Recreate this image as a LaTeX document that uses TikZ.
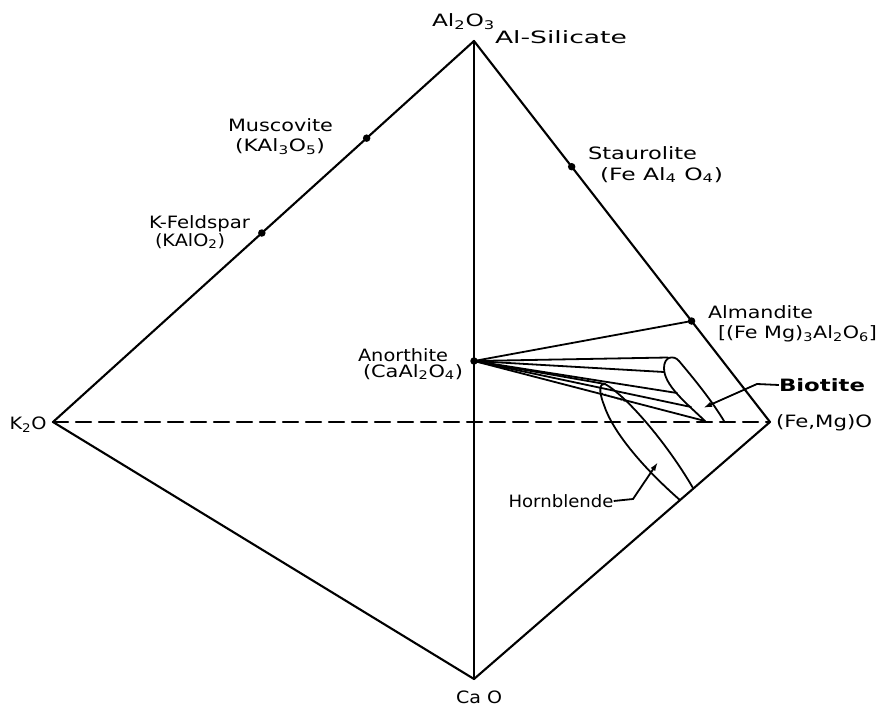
\documentclass[tikz,border=0pt]{standalone}
\usepackage{fontspec}
\setmainfont{DejaVu Sans}
\usetikzlibrary{arrows.meta,calc}
\newsavebox\lblbox
\newcommand\fitw[2]{\sbox\lblbox{#2}\pgfmathsetmacro\lblsc{#1/\the\wd\lblbox}\scalebox{\lblsc}[1]{\usebox\lblbox}}
\newcommand\sbs[1]{\textsubscript{#1}}
\tikzset{
  edge/.style={line width=2.1pt, line join=round, line cap=round},
  thin/.style={line width=1.8pt, line join=round, line cap=round},
  dot/.style={circle, fill=black, inner sep=0pt, minimum size=7.5pt},
  lbl/.style={inner sep=0pt, font=\fontsize{17}{19}\selectfont},
  lead/.style={line width=1.8pt, -{Latex[length=9pt,width=5.5pt]}}
}
\begin{document}
\begin{tikzpicture}[x=1pt,y=-1pt]
\useasboundingbox (0,0) rectangle (879,708);
% vertices
\coordinate (A) at (474,41);
\coordinate (K) at (53,422);
\coordinate (F) at (770,422);
\coordinate (C) at (474,679);
% outline
\draw[edge] (K) -- (A) -- (F) -- (C) -- cycle;
\draw[edge] (A) -- (C);
\draw[edge, dash pattern=on 15pt off 8pt] (K) -- (F);
% points on edges
\node[dot] (ms) at ($(A)!0.255!(K)$) {};
\node[dot] (kf) at ($(A)!0.504!(K)$) {};
\node[dot] (st) at ($(A)!0.33!(F)$) {};
\node[dot] (al) at ($(A)!0.735!(F)$) {};
\node[dot] (an) at (474,361) {};
% biotite
\coordinate (b1) at (668,357.5);
\coordinate (b2) at (664,372);
\coordinate (b3) at (677,393);
\coordinate (b4) at (691,407);
\coordinate (b5) at (705,421);
\coordinate (b6) at (724,421);
\draw[thin] (b5) .. controls (685,402) and (664,385) .. (664,368)
  .. controls (664,356) and (674,355) .. (679,361)
  .. controls (695,380) and (712,401) .. (b6);
% hornblende
\coordinate (h0) at (605,384);
\coordinate (hl) at ($(F)!0.304!(C)$);
\coordinate (hr) at ($(F)!0.259!(C)$);
\draw[thin] (hl) .. controls (640,465) and (612,430) .. (604,405)
  .. controls (598,390) and (600,383) .. (h0)
  .. controls (625,395) and (665,440) .. (hr);
\coordinate (d1) at (601.7,393.3);
\coordinate (d2) at (626.7,401.7);
\draw[line width=1.3pt, dotted] (d1) -- (d2);
% tie lines from anorthite
\draw[thin] (an.center) -- (al.center);
\foreach \p in {b1,b2,b3,b4,b5,h0} \draw[thin] (an.center) -- (\p);
% labels
\node[lbl] (lA) at (463.5,22) {\fitw{63}{Al\sbs{2}O\sbs{3}}};
\node[lbl] (lAS) at (561,37) {\fitw{132}{Al-Silicate}};
\node[lbl] (lms) at (280.5,125) {\fitw{105}{Muscovite}};
\node[lbl] (lms2) at (280,147) {\fitw{90}{(KAl\sbs{3}O\sbs{5})}};
\node[lbl] (lkf) at (199.5,224) {\fitw{101}{K-Feldspar}};
\node[lbl] (lkf2) at (190,241) {\fitw{70}{(KAlO\sbs{2})}};
\node[lbl] (lst) at (642.5,153) {\fitw{109}{Staurolite}};
\node[lbl] (lst2) at (661.5,175) {\fitw{123}{(Fe Al\sbs{4} O\sbs{4})}};
\node[lbl] (lal) at (760.5,312) {\fitw{105}{Almandite}};
\node[lbl] (lal2) at (797.5,334) {\fitw{159}{[(Fe Mg)\sbs{3}Al\sbs{2}O\sbs{6}]}};
\node[lbl] (lan) at (403,355) {\fitw{90}{Anorthite}};
\node[lbl] (lan2) at (413,372) {\fitw{100}{(CaAl\sbs{2}O\sbs{4})}};
\node[lbl] (lK) at (28,425) {\fitw{37}{K\sbs{2}O}};
\node[lbl] (lF) at (824,423) {\fitw{96}{(Fe,Mg)O}};
\node[lbl] (lC) at (479,697) {\fitw{46}{Ca O}};
\node[lbl] (lbt) at (822,385) {\fitw{86}{\bfseries Biotite}};
\node[lbl] (lhb) at (561,501) {\fitw{105}{Hornblende}};
% leaders
\coordinate (btk) at (757,384);
\coordinate (btt) at (703,408);
\draw[lead] (lbt.west) -- (btk) -- (btt);
\coordinate (hbk) at (633,499);
\coordinate (hbt) at (658,462);
\draw[lead] (lhb.east) -- (hbk) -- (hbt);
\end{tikzpicture}
\end{document}
